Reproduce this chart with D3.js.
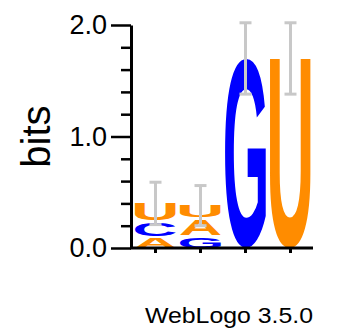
<!DOCTYPE html>
<html>
<head>
<meta charset="utf-8">
<script src="https://cdn.jsdelivr.net/npm/d3@7"></script>
<style>
  body { margin: 0; background: white; }
  svg { display: block; }
</style>
</head>
<body>
<div class="chart"></div>
<script>
// sequence logo data, letters bottom to top
var positions = ["1", "2", "3", "4"];
var letters = [["A", "C", "U"], ["G", "A", "U"], ["G"], ["U"]];
var heights = [[0.11, 0.14, 0.15], [0.12, 0.16, 0.10], [1.70], [1.70]];
var errors = [0.19, 0.18, 0.32, 0.32];
var majorTicks = [0, 1, 2];
var minorTicks = [0.2, 0.4, 0.6, 0.8, 1.2, 1.4, 1.6, 1.8];
var colors = {A: "#ff8c00", U: "#ff8c00", C: "#0000ff", G: "#0000ff"};

var width = 363, height = 333;
var font = "'Liberation Sans', Arial, Helvetica, sans-serif";

var svg = d3.select(".chart")
	.append("svg")
	.attr("width", width)
	.attr("height", height);

var x = d3.scaleBand()
	.domain(positions)
	.range([133, 313])
	.paddingInner(0.09)
	.paddingOuter(0.045);

var y = d3.scaleLinear()
	.domain([0, 2])
	.range([248, 25]);

// measure glyph ink with a canvas so letters can be stretched to their box
var ctx = document.createElement("canvas").getContext("2d");
ctx.font = "bold 100px " + font;

function glyph(ch, x0, y0, w, h) {
	var m = ctx.measureText(ch);
	var gw = m.actualBoundingBoxLeft + m.actualBoundingBoxRight;
	var gh = m.actualBoundingBoxAscent + m.actualBoundingBoxDescent;
	svg.append("text")
		.attr("transform", "translate(" + x0 + "," + y0 + ") scale(" + (w / gw) + "," + (h / gh) + ") translate(" + m.actualBoundingBoxLeft + "," + m.actualBoundingBoxAscent + ")")
		.style("font-family", font)
		.style("font-weight", "bold")
		.style("font-size", "100px")
		.attr("fill", colors[ch])
		.text(ch);
}

var gap = 2.5;
positions.forEach(function(p, i) {
	var base = 0;
	var n = letters[i].length;
	letters[i].forEach(function(ch, j) {
		var top = base + heights[i][j];
		var yt = y(top) + (j < n - 1 ? gap : 0);
		glyph(ch, x(p), yt, x.bandwidth(), y(base) - yt);
		base = top;
	});
});

// error bars centred on the stack top
var tops = heights.map(function(h) { return d3.sum(h); });
var eb = svg.append("g").attr("stroke", "#c8c8c8").attr("stroke-width", 3);
positions.forEach(function(p, i) {
	var cx = x(p) + x.bandwidth() / 2;
	var hi = y(tops[i] + errors[i]), lo = y(tops[i] - errors[i]);
	eb.append("line").attr("x1", cx).attr("x2", cx).attr("y1", hi).attr("y2", lo);
	eb.append("line").attr("x1", cx - 6).attr("x2", cx + 6).attr("y1", hi).attr("y2", hi);
	eb.append("line").attr("x1", cx - 6).attr("x2", cx + 6).attr("y1", lo).attr("y2", lo);
});

// y axis
var yAxis = svg.append("g")
	.attr("transform", "translate(131,0)")
	.call(d3.axisLeft(y).tickValues(majorTicks).tickSize(20).tickSizeOuter(0).tickPadding(4)
		.tickFormat(d3.format(".1f")));
yAxis.select(".domain").attr("stroke-width", 3);
yAxis.selectAll(".tick line").attr("stroke-width", 2.5);
yAxis.selectAll(".tick text")
	.style("font-family", font)
	.style("font-size", "27px")
	.attr("fill", "black");

var yMinor = svg.append("g")
	.attr("transform", "translate(131,0)")
	.call(d3.axisLeft(y).tickValues(minorTicks).tickSize(10).tickSizeOuter(0).tickFormat(""));
yMinor.select(".domain").remove();
yMinor.selectAll(".tick line").attr("stroke-width", 2.5);

// x axis
var xAxis = svg.append("g")
	.attr("transform", "translate(0,248)")
	.call(d3.axisBottom(x).tickSize(5).tickSizeOuter(0).tickFormat(""));
xAxis.select(".domain").attr("stroke-width", 3).attr("d", "M130,0H313");
xAxis.selectAll(".tick line").attr("stroke-width", 3);

svg.append("text")
	.attr("transform", "translate(50,136.5) rotate(-90)")
	.attr("text-anchor", "middle")
	.style("font-family", font)
	.style("font-size", "40px")
	.text("bits");

svg.append("text")
	.attr("x", 145)
	.attr("y", 323)
	.attr("textLength", 168)
	.attr("lengthAdjust", "spacingAndGlyphs")
	.style("font-family", font)
	.style("font-size", "22px")
	.text("WebLogo 3.5.0");
</script>
</body>
</html>
